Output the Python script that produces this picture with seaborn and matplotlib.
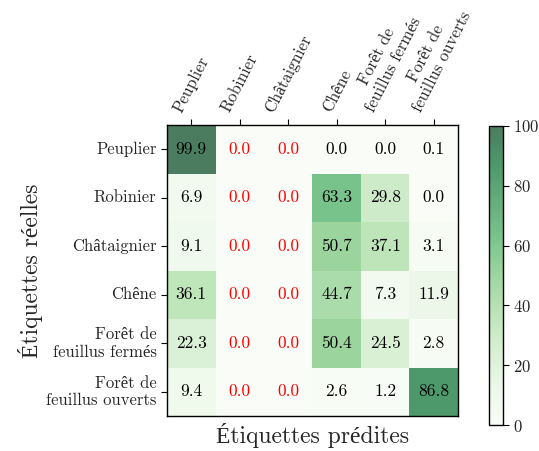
import numpy as np
import pandas as pd
import matplotlib
matplotlib.use("Agg")
import matplotlib.pyplot as plt
import seaborn as sns

labels = ["Peuplier", "Robinier", "Châtaignier", "Chêne",
          "Forêt de\nfeuillus fermés", "Forêt de\nfeuillus ouverts"]
row_peuplier = [99.9, 0.0, 0.0, 0.0, 0.0, 0.1]
row_robinier = [6.9, 0.0, 0.0, 63.3, 29.8, 0.0]
row_chataignier = [9.1, 0.0, 0.0, 50.7, 37.1, 3.1]
row_chene = [36.1, 0.0, 0.0, 44.7, 7.3, 11.9]
row_fermes = [22.3, 0.0, 0.0, 50.4, 24.5, 2.8]
row_ouverts = [9.4, 0.0, 0.0, 2.6, 1.2, 86.8]
red_columns = [1, 2]
xlabel = "Étiquettes prédites"
ylabel = "Étiquettes réelles"
cbar_ticks = [0, 20, 40, 60, 80, 100]

sns.set_style("white")
plt.rcParams["font.family"] = ["cmr10", "Liberation Serif"]
plt.rcParams["mathtext.fontset"] = "cm"
plt.rcParams["axes.unicode_minus"] = False
plt.rcParams["axes.formatter.use_mathtext"] = True

df = pd.DataFrame([row_peuplier, row_robinier, row_chataignier, row_chene,
                   row_fermes, row_ouverts], index=labels, columns=labels)

fig = plt.figure(figsize=(5.39, 4.51), dpi=100)
ax = fig.add_axes([167/539, 1-416/451, 291/539, 291/451])
cax = fig.add_axes([489/539, 1-425/451, 14/539, 299/451])

sns.heatmap(df, ax=ax, cbar_ax=cax, cmap="Greens", vmin=0, vmax=100, alpha=0.7,
            annot=True, fmt=".1f", annot_kws={"size": 12.5, "color": "black"},
            cbar_kws={"ticks": cbar_ticks})

for t in ax.texts:
    x, y = t.get_position()
    col = int(x)
    t.set_color("red" if col in red_columns else "black")

ax.xaxis.tick_top()
ax.xaxis.set_label_position("bottom")
ax.set_xticklabels(labels, rotation=63, ha="center", fontsize=12)
ax.set_yticklabels(labels, rotation=0, fontsize=12)
ax.tick_params(axis="both", length=4, width=0.8, color="black", direction="out")
ax.tick_params(axis="x", top=True, bottom=False)
ax.tick_params(axis="y", left=True)
for s in ax.spines.values():
    s.set_visible(True)
    s.set_color("black")
    s.set_linewidth(1.0)
ax.set_xlabel(xlabel, fontsize=17, labelpad=5)
ax.set_ylabel(ylabel, fontsize=17, labelpad=2)

cax.tick_params(labelsize=12, length=4, width=0.8, color="black", right=True)
cbar = ax.collections[0].colorbar
cbar.outline.set_visible(True)
cbar.outline.set_edgecolor("black")
cbar.outline.set_linewidth(1.0)

fig.savefig("out.png", dpi=100)
